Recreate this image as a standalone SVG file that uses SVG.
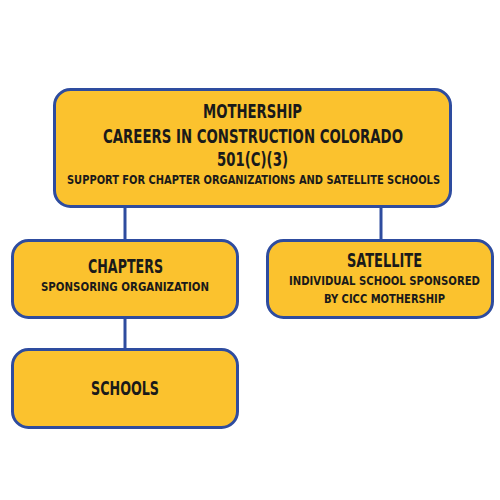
<svg xmlns="http://www.w3.org/2000/svg" width="500" height="500" viewBox="0 0 500 500">
<style>
.box{fill:#FBC22E;stroke:#2E4C9F;stroke-width:3}
.ln{stroke:#2E4C9F;stroke-width:3;fill:none}
text{font-family:"DejaVu Sans Condensed","DejaVu Sans",sans-serif;font-weight:bold;fill:#1a1a1a;text-anchor:middle}
.t{font-size:19px}
.s{font-size:12.5px}
</style>
<rect width="500" height="500" fill="#ffffff"/>
<g id="connectors">
<line class="ln" x1="125" y1="206" x2="125" y2="241"/>
<line class="ln" x1="381" y1="206" x2="381" y2="241"/>
<line class="ln" x1="125" y1="317" x2="125" y2="349"/>
</g>
<g id="mothership">
<rect class="box" x="54.5" y="89.5" width="396" height="117" rx="16"/>
<text class="t" x="252.5" y="118" textLength="99" lengthAdjust="spacingAndGlyphs">MOTHERSHIP</text>
<text class="t" x="253" y="143" textLength="300" lengthAdjust="spacingAndGlyphs">CAREERS IN CONSTRUCTION COLORADO</text>
<text class="t" x="252.5" y="166" textLength="71" lengthAdjust="spacingAndGlyphs">501(C)(3)</text>
<text class="s" x="253.5" y="184" textLength="373" lengthAdjust="spacingAndGlyphs">SUPPORT FOR CHAPTER ORGANIZATIONS AND SATELLITE SCHOOLS</text>
</g>
<g id="chapters">
<rect class="box" x="12.5" y="240.5" width="225" height="77" rx="16"/>
<text class="t" x="125.5" y="273" textLength="75" lengthAdjust="spacingAndGlyphs">CHAPTERS</text>
<text class="s" x="125" y="291" textLength="168" lengthAdjust="spacingAndGlyphs">SPONSORING ORGANIZATION</text>
</g>
<g id="satellite">
<rect class="box" x="267.5" y="240.5" width="225" height="77" rx="16"/>
<text class="t" x="384.5" y="267" textLength="75" lengthAdjust="spacingAndGlyphs">SATELLITE</text>
<text class="s" x="384.5" y="285" textLength="191" lengthAdjust="spacingAndGlyphs">INDIVIDUAL SCHOOL SPONSORED</text>
<text class="s" x="384.5" y="303" textLength="121" lengthAdjust="spacingAndGlyphs">BY CICC MOTHERSHIP</text>
</g>
<g id="schools">
<rect class="box" x="12.5" y="349.5" width="225" height="78" rx="16"/>
<text class="t" x="125" y="395" textLength="68" lengthAdjust="spacingAndGlyphs">SCHOOLS</text>
</g>
</svg>
